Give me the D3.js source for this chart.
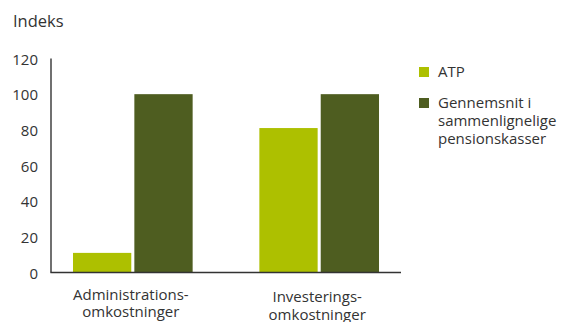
<!DOCTYPE html>
<html>
<head>
<meta charset="utf-8">
<script src="https://cdn.jsdelivr.net/npm/d3@7"></script>
<style>
  body { margin: 0; background: #fff; }
  text { font-family: "Open Sans", sans-serif; fill: #333; }
</style>
</head>
<body>
<script>
const categories = ["Administrationsomkostninger", "Investeringsomkostninger"];
const categoryLines = [["Administrations-", "omkostninger"], ["Investerings-", "omkostninger"]];
const series = ["ATP", "Gennemsnit i sammenlignelige pensionskasser"];
const seriesLines = [["ATP"], ["Gennemsnit i", "sammenlignelige", "pensionskasser"]];
const atpValues = [11, 81];
const avgValues = [100, 100];
const yTicks = [0, 20, 40, 60, 80, 100, 120];
const colors = ["#adc000", "#4e5d20"];

const WIDTH = 564;
const HEIGHT = 322;
const margin = { left: 51, right: 163, top: 58.5, bottom: 49.5 };

const svg = d3.select("body").append("svg")
  .attr("width", WIDTH)
  .attr("height", HEIGHT);

const x = d3.scaleBand()
  .domain(categories)
  .range([margin.left, WIDTH - margin.right])
  .paddingInner(0.358)
  .paddingOuter(0.118);

const x1 = d3.scaleBand()
  .domain(series)
  .range([0, x.bandwidth()])
  .paddingInner(0.05);

const y = d3.scaleLinear()
  .domain([0, 120])
  .range([HEIGHT - margin.bottom, margin.top]);

// axis title
svg.append("text")
  .attr("x", 13)
  .attr("y", 27)
  .style("font-size", "16.5px")
  .text("Indeks");

// y tick labels
svg.append("g")
  .selectAll("text")
  .data(yTicks)
  .join("text")
  .attr("x", 38)
  .attr("y", (d) => y(d) + 1)
  .attr("dy", "0.35em")
  .attr("text-anchor", "end")
  .style("font-size", "15px")
  .text((d) => d);

// bars
const data = categories.map((c, i) => ({ cat: c, vals: [atpValues[i], avgValues[i]] }));
const groups = svg.append("g")
  .selectAll("g")
  .data(data)
  .join("g")
  .attr("transform", (d) => `translate(${x(d.cat)},0)`);

groups.selectAll("rect")
  .data((d) => d.vals.map((v, j) => ({ s: series[j], v, j })))
  .join("rect")
  .attr("x", (d) => x1(d.s))
  .attr("y", (d) => y(d.v))
  .attr("width", x1.bandwidth())
  .attr("height", (d) => y(0) - y(d.v))
  .attr("fill", (d) => colors[d.j]);

// axes lines
svg.append("line")
  .attr("x1", margin.left).attr("x2", margin.left)
  .attr("y1", y(120)).attr("y2", y(0))
  .attr("stroke", "#111").attr("stroke-width", 1.2);
svg.append("line")
  .attr("x1", margin.left - 0.6).attr("x2", WIDTH - margin.right)
  .attr("y1", y(0)).attr("y2", y(0))
  .attr("stroke", "#333").attr("stroke-width", 1.6);

// category labels
const catLabels = svg.append("g")
  .selectAll("text")
  .data(categories)
  .join("text")
  .attr("text-anchor", "middle")
  .style("font-size", "15px")
  .attr("transform", (d, i) => `translate(${x(d) + x.bandwidth() / 2 - 2},${y(0) + 27 + i * 2.5})`);
catLabels.selectAll("tspan")
  .data((d, i) => categoryLines[i])
  .join("tspan")
  .attr("x", 0)
  .attr("y", (d, i) => i * 17.5)
  .text((d) => d);

// legend
const legend = svg.append("g").attr("transform", "translate(419,67)");
const items = legend.selectAll("g")
  .data(series)
  .join("g")
  .attr("transform", (d, i) => `translate(0,${i * 31})`);
items.append("rect")
  .attr("width", 10)
  .attr("height", 10)
  .attr("fill", (d, i) => colors[i]);
items.append("text")
  .style("font-size", "15px")
  .selectAll("tspan")
  .data((d, i) => seriesLines[i])
  .join("tspan")
  .attr("x", 19)
  .attr("y", (d, i) => 10 + i * 18)
  .text((d) => d);
</script>
</body>
</html>
